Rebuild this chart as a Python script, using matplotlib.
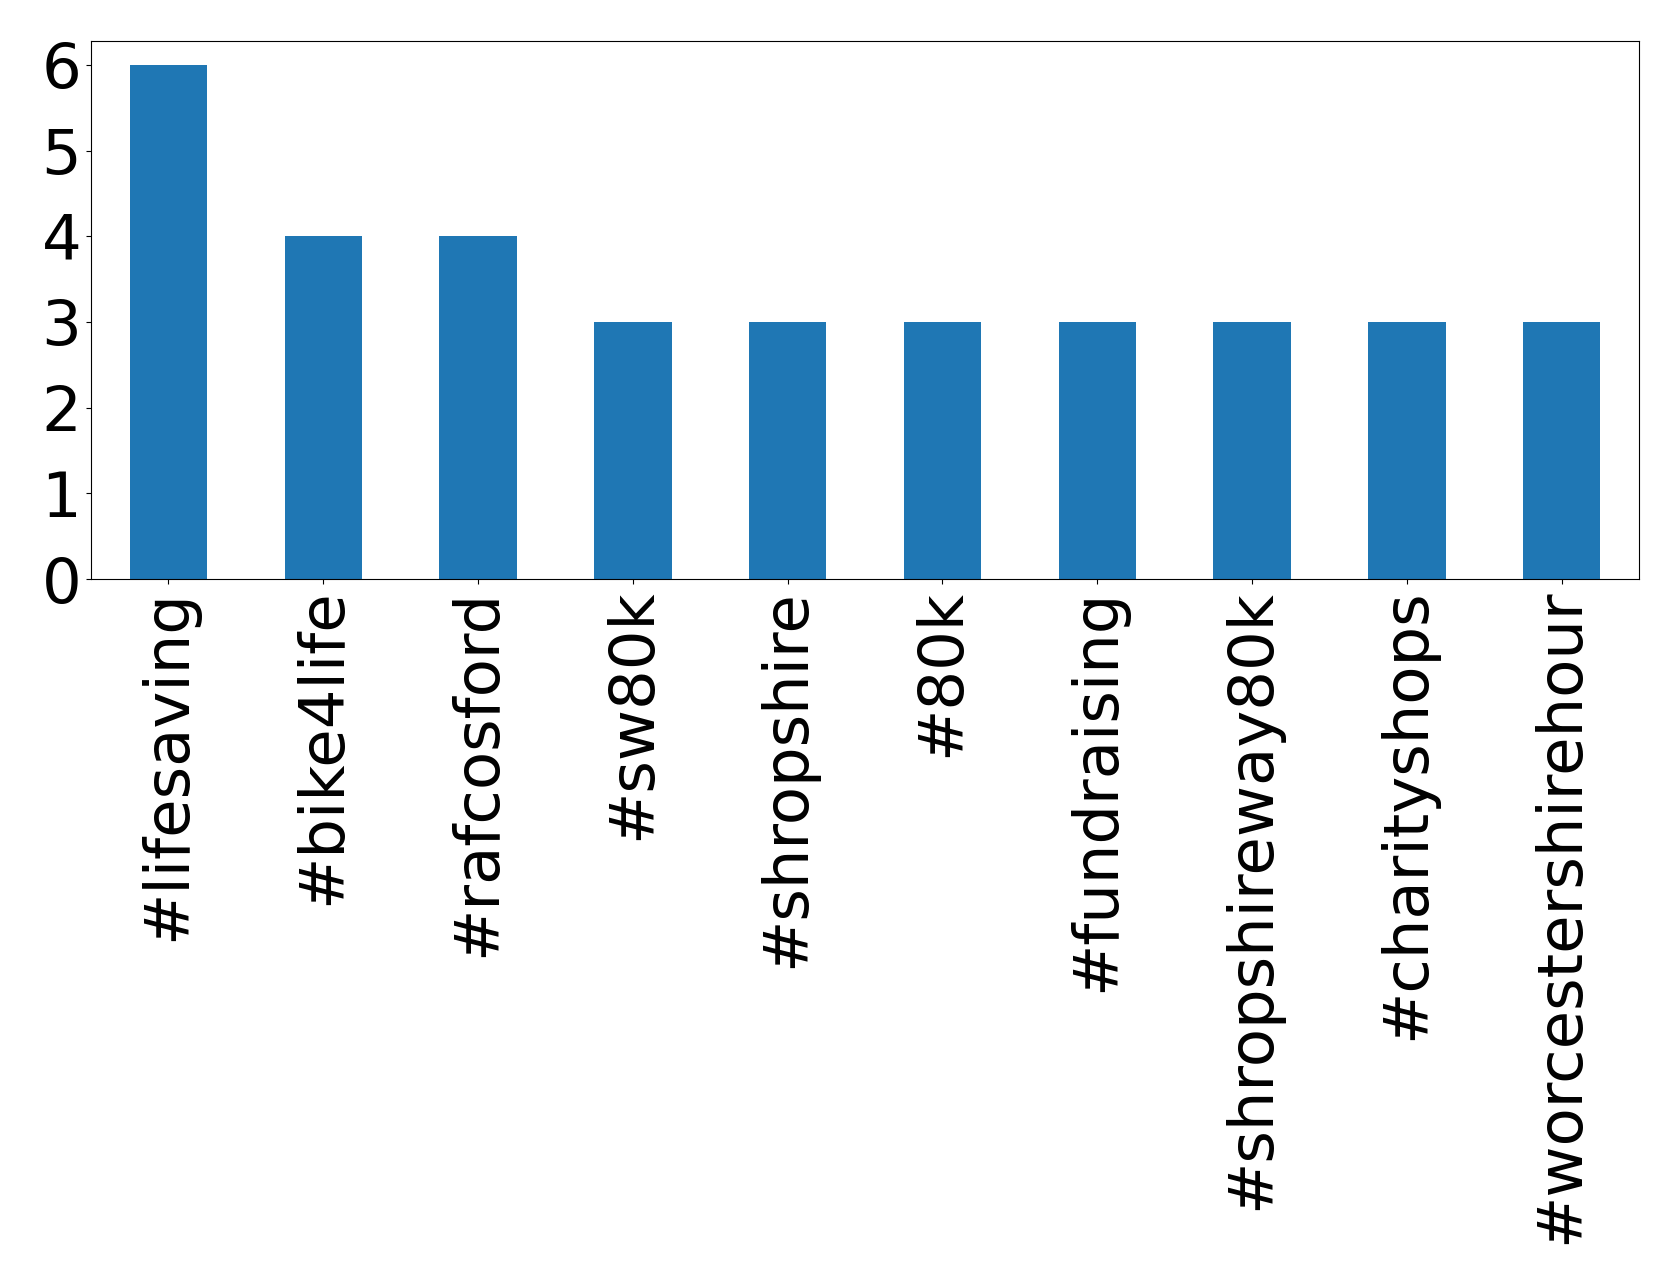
import matplotlib
matplotlib.use("Agg")
import matplotlib.pyplot as plt

tags = ["#lifesaving", "#bike4life", "#rafcosford", "#sw80k", "#shropshire",
        "#80k", "#fundraising", "#shropshireway80k", "#charityshops",
        "#worcestershirehour"]
counts = [6, 4, 4, 3, 3, 3, 3, 3, 3, 3]

fig = plt.figure(figsize=(16.79, 12.84), dpi=100)
ax = fig.add_axes([91/1679, 1 - 579/1284, (1639-91)/1679, (579-41)/1284])
x = range(len(tags))
ax.bar(x, counts, width=0.5, color="#1f77b4")
ax.set_xlim(-0.5, len(tags) - 0.5)
ax.set_ylim(0, 6.28)
ax.set_xticks(list(x))
ax.set_xticklabels(tags, rotation=90, fontsize=45)
ax.set_yticks(range(0, 7))
ax.tick_params(axis="y", labelsize=45)
fig.savefig("out.png", dpi=100)
